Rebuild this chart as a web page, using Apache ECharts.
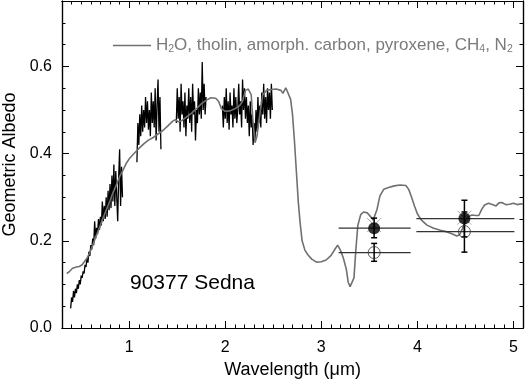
<!DOCTYPE html>
<html lang="en">
<head>
<meta charset="utf-8" />
<title>Sedna albedo</title>
<script src="https://cdn.jsdelivr.net/npm/echarts@6/dist/echarts.min.js"></script>
<style>
  html, body { margin: 0; padding: 0; background: #fff; }
  #main { width: 525px; height: 379px; }
</style>
</head>
<body>
<div id="main"></div>
<script>
// observed spectrum of Sedna, four pieces (wavelength um, geometric albedo)
var sednaSeg1 = [
  [0.39,0.045],[0.40,0.07],[0.41,0.06],[0.42,0.085],[0.43,0.07],[0.44,0.09],[0.45,0.08],[0.46,0.10],
  [0.47,0.09],[0.48,0.11],[0.49,0.10],[0.50,0.12],[0.51,0.115],[0.52,0.13],[0.53,0.125],[0.54,0.145],
  [0.55,0.14],[0.56,0.16],[0.57,0.15],[0.58,0.175],[0.59,0.165],[0.60,0.19],[0.61,0.18],[0.62,0.205],
  [0.63,0.19],[0.64,0.245],[0.65,0.205],[0.66,0.23],[0.67,0.215],[0.68,0.25],[0.69,0.225],[0.70,0.255],
  [0.71,0.235],[0.72,0.29],[0.73,0.245],[0.74,0.28],[0.75,0.25],[0.76,0.30],[0.77,0.255],[0.78,0.315],
  [0.79,0.27],[0.80,0.33],[0.81,0.275],[0.82,0.35],[0.83,0.29],[0.84,0.375],[0.85,0.28],[0.86,0.36],
  [0.87,0.30],[0.88,0.245],[0.89,0.345],[0.90,0.41],[0.91,0.28],[0.92,0.37],[0.93,0.30]
];
var sednaSeg2 = [
  [1.08,0.38],[1.09,0.47],[1.10,0.42],[1.11,0.49],[1.12,0.44],[1.13,0.51],[1.14,0.45],[1.15,0.50],
  [1.16,0.46],[1.17,0.53],[1.18,0.47],[1.19,0.52],[1.20,0.455],[1.21,0.50],[1.22,0.44],[1.23,0.54],
  [1.24,0.47],[1.25,0.52],[1.26,0.46],[1.27,0.55],[1.28,0.43],[1.29,0.51],[1.30,0.57],[1.31,0.45],
  [1.32,0.53],[1.33,0.41]
];
var sednaSeg3 = [
  [1.49,0.47],[1.50,0.55],[1.51,0.48],[1.52,0.53],[1.53,0.45],[1.54,0.56],[1.55,0.49],[1.56,0.52],
  [1.57,0.46],[1.58,0.54],[1.59,0.44],[1.60,0.51],[1.61,0.48],[1.62,0.55],[1.63,0.47],[1.64,0.53],
  [1.65,0.45],[1.66,0.56],[1.67,0.49],[1.68,0.52],[1.69,0.43],[1.70,0.50],[1.71,0.47],[1.72,0.55],
  [1.73,0.49],[1.74,0.54],[1.75,0.48],[1.76,0.61],[1.77,0.50],[1.78,0.56],[1.79,0.49],[1.80,0.53]
];
var sednaSeg4 = [
  [1.97,0.51],[1.98,0.46],[1.99,0.53],[2.00,0.48],[2.01,0.55],[2.02,0.47],[2.03,0.52],[2.04,0.455],
  [2.05,0.54],[2.06,0.49],[2.07,0.51],[2.08,0.46],[2.09,0.55],[2.10,0.48],[2.11,0.53],[2.12,0.47],
  [2.13,0.50],[2.14,0.56],[2.15,0.49],[2.16,0.52],[2.17,0.46],[2.18,0.57],[2.19,0.50],[2.20,0.55],
  [2.21,0.48],[2.22,0.53],[2.23,0.47],[2.24,0.51],[2.25,0.44],[2.26,0.52],[2.27,0.46],[2.28,0.49],
  [2.29,0.42],[2.30,0.47],[2.31,0.43],[2.32,0.50],[2.33,0.45],[2.34,0.53],[2.35,0.47],[2.36,0.51],
  [2.37,0.46],[2.38,0.54],[2.39,0.49],[2.40,0.56],[2.41,0.48],[2.42,0.53],[2.43,0.47],[2.44,0.55],
  [2.45,0.50],[2.46,0.54],[2.47,0.48],[2.48,0.56],[2.49,0.50]
];

// model: H2O, tholin, amorph. carbon, pyroxene, CH4, N2
var modelCurve = [
  [0.35,0.125],[0.38,0.13],[0.41,0.137],[0.45,0.14],[0.48,0.141],[0.51,0.145],[0.53,0.149],[0.56,0.16],
  [0.59,0.173],[0.62,0.19],[0.65,0.208],[0.69,0.23],[0.72,0.248],[0.76,0.27],[0.80,0.292],[0.83,0.31],
  [0.87,0.33],[0.90,0.347],[0.93,0.36],[0.97,0.378],[1.00,0.388],[1.04,0.398],[1.08,0.407],[1.12,0.416],
  [1.16,0.424],[1.20,0.431],[1.25,0.437],[1.30,0.445],[1.35,0.453],[1.40,0.463],[1.45,0.474],[1.48,0.478],
  [1.51,0.473],[1.55,0.476],[1.60,0.485],[1.65,0.493],[1.70,0.503],[1.75,0.514],[1.80,0.522],[1.85,0.528],
  [1.90,0.527],[1.93,0.52],[1.96,0.503],[2.00,0.497],[2.05,0.498],[2.10,0.503],[2.15,0.51],[2.18,0.52],
  [2.21,0.545],[2.24,0.548],[2.27,0.535],[2.29,0.47],[2.31,0.425],[2.33,0.44],[2.36,0.49],[2.39,0.535],
  [2.43,0.545],[2.48,0.547],[2.53,0.548],[2.58,0.545],[2.60,0.538],[2.63,0.551],[2.65,0.548],[2.68,0.525],
  [2.70,0.49],[2.72,0.43],[2.74,0.36],[2.76,0.29],[2.78,0.24],[2.80,0.20],[2.83,0.178],[2.86,0.168],
  [2.90,0.158],[2.95,0.151],[3.00,0.152],[3.05,0.156],[3.10,0.166],[3.14,0.18],[3.17,0.19],[3.20,0.178],
  [3.23,0.16],[3.26,0.135],[3.28,0.105],[3.30,0.095],[3.32,0.093],[3.34,0.115],[3.36,0.18],[3.38,0.235],
  [3.41,0.26],[3.44,0.266],[3.48,0.264],[3.51,0.256],[3.54,0.248],[3.56,0.25],[3.58,0.272],[3.61,0.303],
  [3.65,0.318],[3.70,0.322],[3.76,0.326],[3.82,0.328],[3.88,0.327],[3.91,0.318],[3.94,0.30],[3.97,0.28],
  [4.00,0.262],[4.04,0.248],[4.10,0.236],[4.17,0.229],[4.24,0.224],[4.30,0.221],[4.36,0.216],[4.41,0.211],
  [4.44,0.214],[4.47,0.228],[4.50,0.245],[4.53,0.256],[4.57,0.259],[4.61,0.258],[4.64,0.258],[4.67,0.272],
  [4.70,0.282],[4.74,0.286],[4.78,0.283],[4.82,0.28],[4.85,0.287],[4.88,0.288],[4.92,0.283],[4.96,0.284],
  [5.00,0.286],[5.04,0.283],[5.08,0.285],[5.10,0.284]
];

// photometry: filled and open points, vertical errors [x, low, high], filter widths [x1, x2, y]
var filledPts = [[3.55,0.229],[4.49,0.251]];
var filledErr = [[3.55,0.207,0.252],[4.49,0.209,0.293]];
var openPts = [[3.55,0.173],[4.49,0.221]];
var openErr = [[3.55,0.153,0.194],[4.49,0.174,0.266]];
var bandBars = [[3.18,3.93,0.229],[3.18,3.93,0.173],[3.99,5.01,0.251],[3.99,5.01,0.221]];
var modelPts = [[3.55,0.236],[4.49,0.253]];

var xMajor = [1,2,3,4,5];
var yMajor = [0,0.2,0.4,0.6];

var FONT = '"Liberation Sans", Arial, Helvetica, sans-serif';

var xMinor = [];
for (var i = 4; i <= 50; i++) if (i % 10) xMinor.push(i / 10);
var yMinor = [];
for (var j = 1; j <= 14; j++) if (j % 4) yMinor.push(j * 0.05);

function xAx(pos, ticks, len, labels) {
  return {
    type: 'value', position: pos, min: 0.3, max: 5.1,
    axisLine: { show: true, onZero: false, lineStyle: { color: '#000', width: 1.2 } },
    axisTick: { show: true, inside: true, length: len, customValues: ticks, lineStyle: { color: '#000', width: 1 } },
    axisLabel: labels ? { show: true, customValues: xMajor, margin: 12, color: '#000', fontSize: 16, fontFamily: FONT } : { show: false },
    splitLine: { show: false }
  };
}
function yAx(pos, ticks, len, labels) {
  return {
    type: 'value', position: pos, min: 0, max: 0.75,
    axisLine: { show: true, onZero: false, lineStyle: { color: '#000', width: 1.2 } },
    axisTick: { show: true, inside: true, length: len, customValues: ticks, lineStyle: { color: '#000', width: 1 } },
    axisLabel: labels ? { show: true, customValues: yMajor, margin: 10, color: '#000', fontSize: 16, fontFamily: FONT,
      formatter: function (v) { return v.toFixed(1); } } : { show: false },
    splitLine: { show: false }
  };
}

var xAxes = [xAx('bottom', xMajor, 7, true), xAx('bottom', xMinor, 3.5, false), xAx('top', xMajor, 7, false), xAx('top', xMinor, 3.5, false)];
xAxes[0].name = 'Wavelength (\u03bcm)';
xAxes[0].nameLocation = 'middle';
xAxes[0].nameGap = 31;
xAxes[0].nameTextStyle = { fontSize: 18, color: '#000', fontFamily: FONT };
var yAxes = [yAx('left', yMajor, 7, true), yAx('left', yMinor, 3.5, false), yAx('right', yMajor, 7, false), yAx('right', yMinor, 3.5, false)];
yAxes[0].name = 'Geometric Albedo';
yAxes[0].nameLocation = 'middle';
yAxes[0].nameGap = 35;
yAxes[0].nameTextStyle = { fontSize: 18, color: '#000', fontFamily: FONT };

function obsSeries(d) {
  return { type: 'line', data: d, showSymbol: false, symbol: 'none', silent: true,
    lineStyle: { color: '#000', width: 1.3 }, z: 2 };
}

var chart = echarts.init(document.getElementById('main'));
chart.setOption({
  animation: false,
  backgroundColor: '#fff',
  grid: { left: 62, right: 2, top: 1, bottom: 51, containLabel: false, outerBoundsMode: 'none' },
  xAxis: xAxes,
  yAxis: yAxes,
  legend: {
    data: ['model'],
    left: 108, top: 32,
    icon: 'rect',
    itemWidth: 38, itemHeight: 1.6, itemGap: 0,
    textStyle: {
      color: '#7a7a7a', fontFamily: FONT,
      rich: {
        n: { fontSize: 17, lineHeight: 19, color: '#7a7a7a', fontFamily: FONT },
        s: { fontSize: 10.5, lineHeight: 11, verticalAlign: 'bottom', color: '#7a7a7a', fontFamily: FONT }
      }
    },
    formatter: function () {
      return '{n|H}{s|2}{n|O, tholin, amorph. carbon, pyroxene, CH}{s|4}{n|, N}{s|2}';
    }
  },
  graphic: [{
    type: 'text', left: 130, top: 273,
    style: { text: '90377 Sedna', fontSize: 21, fill: '#000', fontFamily: FONT }
  }],
  series: [
    obsSeries(sednaSeg1), obsSeries(sednaSeg2), obsSeries(sednaSeg3), obsSeries(sednaSeg4),
    { name: 'model', type: 'line', data: modelCurve, showSymbol: false, symbol: 'none', smooth: false,
      lineStyle: { color: '#707070', width: 1.6 }, itemStyle: { color: '#707070' }, z: 3 },
    { type: 'custom', data: bandBars, encode: { x: [0, 1], y: 2 }, z: 4, silent: true,
      renderItem: function (params, api) {
        var a = api.coord([api.value(0), api.value(2)]), b = api.coord([api.value(1), api.value(2)]);
        return { type: 'line', shape: { x1: a[0], y1: a[1], x2: b[0], y2: b[1] }, style: { stroke: '#333', lineWidth: 1.2 } };
      } },
    { type: 'custom', data: modelPts, encode: { x: 0, y: 1 }, z: 4, silent: true,
      renderItem: function (params, api) {
        var p = api.coord([api.value(0), api.value(1)]), r = 7;
        return { type: 'group', children: [
          { type: 'line', shape: { x1: p[0] - r, y1: p[1] - r, x2: p[0] + r, y2: p[1] + r }, style: { stroke: '#aaa', lineWidth: 1 } },
          { type: 'line', shape: { x1: p[0] - r, y1: p[1] + r, x2: p[0] + r, y2: p[1] - r }, style: { stroke: '#aaa', lineWidth: 1 } }
        ] };
      } },
    { type: 'custom', data: filledErr.concat(openErr), encode: { x: 0, y: [1, 2] }, z: 5, silent: true,
      renderItem: function (params, api) {
        var lo = api.coord([api.value(0), api.value(1)]), hi = api.coord([api.value(0), api.value(2)]), w = 3;
        var st = { stroke: '#000', lineWidth: 1.5 };
        return { type: 'group', children: [
          { type: 'line', shape: { x1: lo[0], y1: lo[1], x2: hi[0], y2: hi[1] }, style: st },
          { type: 'line', shape: { x1: lo[0] - w, y1: lo[1], x2: lo[0] + w, y2: lo[1] }, style: st },
          { type: 'line', shape: { x1: hi[0] - w, y1: hi[1], x2: hi[0] + w, y2: hi[1] }, style: st }
        ] };
      } },
    { type: 'scatter', data: openPts, symbol: 'circle', symbolSize: 12, z: 6, silent: true,
      itemStyle: { color: 'rgba(255,255,255,0)', borderColor: '#333', borderWidth: 1 } },
    { type: 'scatter', data: filledPts, symbol: 'circle', symbolSize: 12, z: 6, silent: true,
      itemStyle: { color: '#000' } }
  ]
});
</script>
</body>
</html>
